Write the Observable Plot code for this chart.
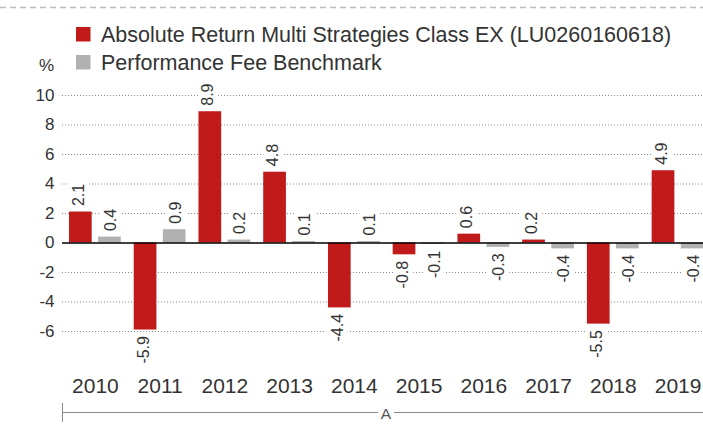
<!DOCTYPE html>
<html>
<head>
<meta charset="utf-8">
<script src="https://cdn.jsdelivr.net/npm/d3@7"></script>
<script src="https://cdn.jsdelivr.net/npm/@observablehq/plot@0.6"></script>
<style>
  html, body { margin: 0; padding: 0; background: #fff; overflow: hidden; }
  #wrap { position: relative; width: 703px; height: 427px; font-family: "Liberation Sans", Arial, sans-serif; }
  #head { position: absolute; left: 0; top: 0; }
</style>
</head>
<body>
<div id="wrap"></div>
<script>
const years = ["2010","2011","2012","2013","2014","2015","2016","2017","2018","2019"];
const fundValues = [2.1, -5.9, 8.9, 4.8, -4.4, -0.8, 0.6, 0.2, -5.5, 4.9];
const benchValues = [0.4, 0.9, 0.2, 0.1, 0.1, -0.1, -0.3, -0.4, -0.4, -0.4];
const seriesNames = ["Absolute Return Multi Strategies Class EX (LU0260160618)", "Performance Fee Benchmark"];
const seriesColors = ["#c11a1b", "#b1b1b1"];
const yTicks = [-6, -4, -2, 0, 2, 4, 6, 8, 10];
const unitLabel = "%";
const groupLabel = "A";

const fundRows = years.map((year, i) => ({year, value: fundValues[i]}));
const benchRows = years.map((year, i) => ({year, value: benchValues[i]}));

const textColor = "#333";
const fmt = v => v.toFixed(1);

function labels(rows, dx) {
  const common = {x: "year", y: "value", text: d => fmt(d.value), rotate: -90, dx,
    fontSize: 16, fill: textColor, stroke: "white", strokeWidth: 10, paintOrder: "stroke", lineAnchor: "middle"};
  return [
    Plot.text(rows.filter(d => d.value >= 0), {...common, textAnchor: "start", dy: -6}),
    Plot.text(rows.filter(d => d.value < 0), {...common, textAnchor: "end", dy: 6})
  ];
}

const W = 703, H = 427, ML = 62, MT = 95, MB = 96;

const plot = Plot.plot({
  width: W, height: H,
  marginLeft: ML, marginRight: 0, marginTop: MT, marginBottom: MB,
  style: {fontFamily: "'Liberation Sans', Arial, sans-serif", color: textColor, background: "white"},
  x: {domain: years, range: [56.05, 716.4], padding: 0.2, align: 0.5, round: false, label: null},
  y: {domain: [-6, 10], nice: false, label: null},
  marks: [
    Plot.ruleY(yTicks.filter(d => d !== 0), {stroke: "#8a8a8a", strokeDasharray: "1,2", strokeWidth: 1}),
    ...labels(fundRows, -16.5),
    ...labels(benchRows, 15.5),
    Plot.barY(fundRows, {x: "year", y: "value", fill: seriesColors[0], insetRight: 29.1}),
    Plot.barY(benchRows, {x: "year", y: "value", fill: seriesColors[1], insetLeft: 29.1}),
    Plot.ruleY([0], {stroke: "#000", strokeWidth: 1.4}),
    Plot.axisY({ticks: yTicks, tickSize: 0, tickPadding: 8, fontSize: 17, tickFormat: d => String(d), label: null}),
    Plot.axisX({tickSize: 0, tickPadding: 47, fontSize: 21, label: null})
  ]
});

const wrap = document.getElementById("wrap");
wrap.appendChild(plot);

// group bracket under the axis
const svg = d3.select(plot);
const g = svg.append("g").attr("stroke", "#888").attr("stroke-width", 1);
g.append("line").attr("x1", ML + 0.5).attr("x2", ML + 0.5).attr("y1", 403).attr("y2", 422);
g.append("line").attr("x1", ML).attr("x2", 378).attr("y1", 412.5).attr("y2", 412.5);
g.append("line").attr("x1", 394).attr("x2", W).attr("y1", 412.5).attr("y2", 412.5);
svg.append("text").attr("x", 386).attr("y", 418.5).attr("text-anchor", "middle")
  .attr("font-size", 15.5).attr("fill", "#555").attr("font-family", "'Liberation Sans', Arial, sans-serif").text(groupLabel);

// header: dashed rule, legend, unit
const head = d3.select(wrap).append("svg").attr("id", "head").attr("width", W).attr("height", 80)
  .attr("font-family", "'Liberation Sans', Arial, sans-serif");
head.append("line").attr("x1", 0).attr("x2", W).attr("y1", 7.5).attr("y2", 7.5)
  .attr("stroke", "#bdbdbd").attr("stroke-width", 1.5).attr("stroke-dasharray", "6,4");
seriesNames.forEach((name, i) => {
  const y0 = 27 + i * 28;
  head.append("rect").attr("x", 76).attr("y", y0).attr("width", 14.5).attr("height", 14.5).attr("fill", seriesColors[i]);
  head.append("text").attr("x", 101).attr("y", y0 + 15).attr("font-size", 21.5).attr("fill", textColor).text(name);
});
head.append("text").attr("x", 54).attr("y", 71).attr("text-anchor", "end").attr("font-size", 17).attr("fill", textColor).text(unitLabel);
</script>
</body>
</html>
